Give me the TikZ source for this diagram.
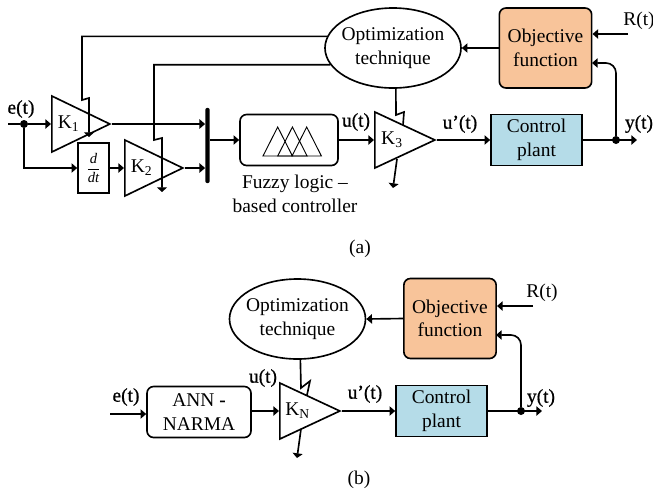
\documentclass[tikz,border=0pt]{standalone}
\usepackage{fontspec}
\setmainfont{Liberation Serif}
\newfontfamily\heavyfont[FakeBold=0.7]{Liberation Serif}
\usetikzlibrary{shapes.geometric, arrows.meta}
\definecolor{objorange}{HTML}{F8C49A}
\definecolor{plantblue}{HTML}{B5DCE8}
\newcommand{\gainlbl}[1]{\raisebox{-2.5pt}{K\textsubscript{#1}}}
\tikzstyle{wire}=[line width=1.4pt, -{Triangle[length=1.7mm, width=2.8mm]}]
\tikzstyle{tune}=[line width=1.4pt, -{Triangle[length=1.4mm, width=3mm]}]
\tikzstyle{plain}=[line width=1.4pt]
\tikzstyle{lbl}=[inner sep=0pt, font=\fontsize{16.6}{20}\selectfont, align=center]
\tikzstyle{sig}=[lbl, font=\fontsize{16.6}{20}\heavyfont]
\tikzstyle{opt}=[lbl, ellipse, draw, line width=1.4pt, minimum width=4.08cm, minimum height=2.4cm]
\tikzstyle{obj}=[lbl, draw, line width=1.4pt, fill=objorange, rounded corners=0.2cm, minimum width=2.77cm, minimum height=2.4cm]
\tikzstyle{plant}=[lbl, draw, line width=1.4pt, fill=plantblue, minimum width=2.73cm, minimum height=1.53cm]
\tikzstyle{ctrl}=[lbl, draw, line width=1.4pt, rounded corners=0.2cm, minimum height=1.53cm]
\tikzstyle{gain}=[lbl, isosceles triangle, isosceles triangle stretches, draw, line width=1.4pt, anchor=lower side, minimum height=1.8cm, minimum width=1.68cm]
\tikzstyle{dot}=[circle, fill=black, inner sep=0pt, minimum size=0.24cm]

\begin{document}
\begin{tikzpicture}[x=0.03cm, y=-0.03cm]
	\useasboundingbox (0,0) rectangle (653,493);

	% Blocks of part (a)
	\node[opt] (opta) at (393,48) {\makebox[2.8cm]{Optimization}\\technique};
	\node[obj] (obja) at (545.5,48) {Objective\\function};
	\node[plant] (planta) at (536.5,140) {Control\\plant};
	\node[ctrl, minimum width=2.94cm] (fuzzy) at (289,140) {};
	\node[gain, minimum height=1.74cm] (K1) at (51,124) {\gainlbl{1}};
	\node[gain, minimum height=1.74cm] (K2) at (124,168) {\gainlbl{2}};
	\node[gain] (K3) at (374,140) {\gainlbl{3}};
	\node[draw, line width=1.4pt, inner sep=0pt, minimum width=0.93cm, minimum height=1.5cm] (deriv) at (93.5,168)
		{\fontsize{12.5}{14}\selectfont $\displaystyle\frac{\mbox{\itshape d}}{\mbox{\itshape dt}}$};
	\node[fill=black, rounded corners=0.06cm, inner sep=0pt, minimum width=0.13cm, minimum height=2.26cm] (bus) at (207.5,145.5) {};

	% Membership functions
	\foreach \x in {263, 277.7, 292}{ \draw[line width=0.8pt] (\x,156) -- (\x+14.7,127) -- (\x+29.4,156) -- cycle; }

	% Signal path of part (a)
	\coordinate (ein) at (8,124);
	\coordinate (yout) at (637,140);
	\coordinate (rin) at (628,34);
	\node[dot] (ejoin) at (24,124) {};
	\node[dot] (yjoin) at (616,140) {};
	\draw[plain] (ein) -- (ejoin);
	\draw[wire] (ejoin) -- (K1.lower side);
	\draw[wire] (ejoin) |- (deriv.west);
	\draw[wire] (deriv.east) -- (K2.lower side);
	\draw[wire] (K1.apex) -- (K1.apex -| bus.west);
	\draw[wire] (K2.apex) -- (K2.apex -| bus.west);
	\draw[wire] (bus.east |- fuzzy.west) -- (fuzzy.west);
	\draw[wire] (fuzzy.east) -- (K3.lower side);
	\draw[wire] (K3.apex) -- (planta.west);
	\draw[wire] (planta.east) -- (yout);
	\draw[wire] (rin) -- (rin -| obja.east);
	\coordinate (yback) at (592,63);
	\draw[wire, rounded corners=0.3cm] (yjoin) |- (yback);
	\draw[wire] (obja.west) -- (opta.east);

	% Tuning of the gains in part (a)
	\coordinate (k1a) at (82,100);
	\coordinate (k1b) at (89,98);
	\coordinate (k1c) at (89,137);
	\coordinate (k2a) at (154,140);
	\coordinate (k2b) at (162,138);
	\coordinate (k2c) at (162,192);
	\coordinate (k3a) at (396,115);
	\coordinate (k3b) at (404,112);
	\coordinate (k3c) at (403,125);
	\coordinate (k3d) at (397,159);
	\coordinate (k3e) at (393,188);
	\draw[tune] (opta.170.5) -| (k1a) -- (k1b) -- (k1c);
	\draw[tune] (opta.195.5) -| (k2a) -- (k2b) -- (k2c);
	\draw[plain] (opta.-86) -- (k3a) -- (k3b) -- (k3c);
	\draw[tune] (k3d) -- (k3e);

	% Labels of part (a)
	\node[sig] (elbl) at (21,109) {e(t)};
	\node[sig] (ulbl) at (356,122) {u(t)};
	\node[sig] (uplbl) at (460,124) {u’(t)};
	\node[sig] (ylbl) at (639,124) {y(t)};
	\node[lbl] (rlbl) at (639,21) {R(t)};
	\node[lbl] (fuzzylbl) at (295,194) {Fuzzy logic --\\based controller};
	\node[lbl] (alabel) at (360,249) {(a)};

	% Blocks of part (b)
	\node[opt] (optb) at (297.5,319) {\makebox[2.8cm]{Optimization}\\technique};
	\node[obj] (objb) at (450,318.5) {Objective\\function};
	\node[plant] (plantb) at (441.5,411) {Control\\plant};
	\node[ctrl, minimum width=3.12cm] (ann) at (199,412) {ANN \textbf{-}\\NARMA};
	\node[gain] (KN) at (279,411) {\gainlbl{N}};

	% Signal path of part (b)
	\coordinate (einb) at (110,414);
	\coordinate (youtb) at (542,411);
	\coordinate (rinb) at (533,306);
	\coordinate (ybackb) at (496,335);
	\node[dot] (yjoinb) at (521,411) {};
	\draw[wire] (einb) -- (einb -| ann.west);
	\draw[wire] (ann.east |- KN.lower side) -- (KN.lower side);
	\draw[wire] (KN.apex) -- (plantb.west);
	\draw[wire] (plantb.east) -- (youtb);
	\draw[wire] (rinb) -- (rinb -| objb.east);
	\draw[wire, rounded corners=0.3cm] (yjoinb) |- (ybackb);
	\draw[wire] (objb.west) -- (optb.east);

	% Tuning of the gain in part (b)
	\coordinate (kna) at (301,388);
	\coordinate (knb) at (310,381);
	\coordinate (knc) at (307,395);
	\coordinate (knd) at (301,429);
	\coordinate (kne) at (297,458);
	\draw[plain] (optb.-86) -- (kna) -- (knb) -- (knc);
	\draw[tune] (knd) -- (kne);

	% Labels of part (b)
	\node[sig] (elblb) at (126,397) {e(t)};
	\node[sig] (ulblb) at (263,378) {u(t)};
	\node[sig] (uplblb) at (365,394) {u’(t)};
	\node[sig] (ylblb) at (541,398) {y(t)};
	\node[lbl] (rlblb) at (542,293) {R(t)};
	\node[lbl] (blabel) at (359,480) {(b)};
\end{tikzpicture}
\end{document}
